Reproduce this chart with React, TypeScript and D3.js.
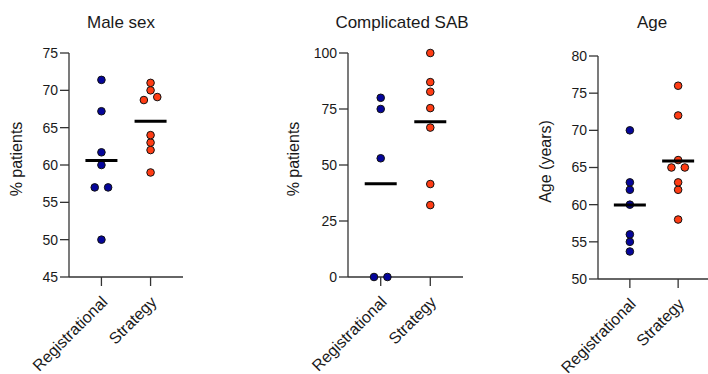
import { useMemo } from 'react';
import * as d3 from 'd3';

const groups = ["Registrational", "Strategy"];

// Male sex, % patients
const maleRegistrational = [71.4, 67.2, 61.7, 60, 57, 57, 50];
const maleStrategy = [71, 70, 69.1, 68.7, 64, 63, 62, 59];

// Complicated SAB, % patients
const sabRegistrational = [80, 75, 53, 0, 0];
const sabStrategy = [100, 87, 82.7, 75.4, 66.7, 41.5, 32.1];

// Age, years
const ageRegistrational = [70, 63, 62, 60, 56, 55, 53.7];
const ageStrategy = [76, 72, 66, 65, 65, 63, 62, 58];

const maleTicks = [45, 50, 55, 60, 65, 70, 75];
const sabTicks = [0, 25, 50, 75, 100];
const ageTicks = [50, 55, 60, 65, 70, 75, 80];

const COLORS = ["#05059a", "#ff3c14"];
const FONT = "Liberation Sans, Arial, Helvetica, sans-serif";
const TEXT = "#1a1a1a";
const AXIS = "#333";
const R = 3.8;
const DODGE = 6.7;

type PanelProps = {
  title: string;
  yLabel: string;
  values: number[][];
  ticks: number[];
  axisX: number;
  top: number;
  bottom: number;
  axisWidth: number;
  titleX: number;
  labelOffset: number;
};

// spread points sitting on (almost) the same height side by side
function dodge(vals: number[], y: d3.ScaleLinear<number, number>) {
  const sorted = [...vals].sort((a, b) => a - b);
  const rows: number[][] = [];
  sorted.forEach((v) => {
    const last = rows[rows.length - 1];
    if (last && Math.abs(y(last[last.length - 1]) - y(v)) < 5) last.push(v);
    else rows.push([v]);
  });
  const out: { v: number; dx: number }[] = [];
  rows.forEach((row) => {
    row.forEach((v, i) => {
      out.push({ v, dx: (i - (row.length - 1) / 2) * 2 * DODGE });
    });
  });
  return out;
}

const Panel = ({ title, yLabel, values, ticks, axisX, top, bottom, axisWidth, titleX, labelOffset }: PanelProps) => {
  const yScale = useMemo(
    () => d3.scaleLinear().domain([ticks[0], ticks[ticks.length - 1]]).range([bottom, top]),
    [ticks, top, bottom]
  );
  const xScale = useMemo(
    () => d3.scalePoint<string>().domain(groups).range([axisX, axisX + axisWidth]).padding(0.66),
    [axisX, axisWidth]
  );

  return (
    <g fontFamily={FONT}>
      <text x={titleX} y={28} textAnchor="middle" fontSize={17} fill={TEXT}>
        {title}
      </text>
      <text
        transform={`translate(${axisX - labelOffset},${(top + bottom) / 2 - 6}) rotate(-90)`}
        textAnchor="middle"
        fontSize={16}
        fill={TEXT}
      >
        {yLabel}
      </text>

      {/* y axis */}
      <line x1={axisX} x2={axisX} y1={top} y2={bottom} stroke={AXIS} strokeWidth={1.3} />
      {ticks.map((t) => (
        <g key={t}>
          <line x1={axisX - 9} x2={axisX} y1={yScale(t)} y2={yScale(t)} stroke={AXIS} strokeWidth={1.3} />
          <text x={axisX - 11} y={yScale(t)} dy="0.35em" textAnchor="end" fontSize={14} fill={TEXT}>
            {t}
          </text>
        </g>
      ))}

      {/* x axis */}
      <line x1={axisX} x2={axisX + axisWidth} y1={bottom} y2={bottom} stroke={AXIS} strokeWidth={1.3} />
      {groups.map((g) => (
        <g key={g}>
          <line x1={xScale(g)} x2={xScale(g)} y1={bottom} y2={bottom + 9} stroke={AXIS} strokeWidth={1.3} />
          <text
            transform={`translate(${(xScale(g) || 0) + 7},${bottom + 26}) rotate(-45)`}
            textAnchor="end"
            fontSize={16}
            fill={TEXT}
          >
            {g}
          </text>
        </g>
      ))}

      {/* points and means */}
      {values.map((vals, gi) => {
        const cx = xScale(groups[gi]) || 0;
        const mean = d3.mean(vals) || 0;
        return (
          <g key={gi}>
            {dodge(vals, yScale).map((p, i) => (
              <circle
                key={i}
                cx={cx + p.dx}
                cy={yScale(p.v)}
                r={R}
                fill={COLORS[gi]}
                stroke="#111"
                strokeWidth={1}
              />
            ))}
            <line x1={cx - 16} x2={cx + 16} y1={yScale(mean)} y2={yScale(mean)} stroke="#000" strokeWidth={3} />
          </g>
        );
      })}
    </g>
  );
};

export default function App() {
  return (
    <svg width={708} height={374} style={{ position: 'absolute', left: 0, top: 0, background: '#fff' }}>
      <Panel
        title="Male sex"
        yLabel="% patients"
        values={[maleRegistrational, maleStrategy]}
        ticks={maleTicks}
        axisX={69}
        top={53}
        bottom={277}
        axisWidth={114}
        titleX={121}
        labelOffset={47}
      />
      <Panel
        title="Complicated SAB"
        yLabel="% patients"
        values={[sabRegistrational, sabStrategy]}
        ticks={sabTicks}
        axisX={348}
        top={53}
        bottom={277}
        axisWidth={115}
        titleX={402}
        labelOffset={49}
      />
      <Panel
        title="Age"
        yLabel="Age (years)"
        values={[ageRegistrational, ageStrategy]}
        ticks={ageTicks}
        axisX={598}
        top={56}
        bottom={279}
        axisWidth={112}
        titleX={652}
        labelOffset={47}
      />
    </svg>
  );
}
